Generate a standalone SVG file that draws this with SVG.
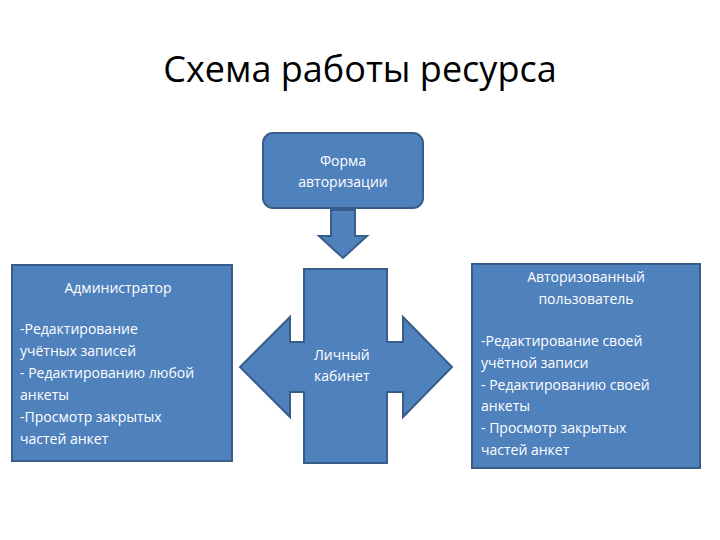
<svg xmlns="http://www.w3.org/2000/svg" width="720" height="540" viewBox="0 0 720 540">
<style>
.s{fill:#4f81bd;stroke:#385d8a;stroke-width:2}
.t{font-family:"Open Sans","DejaVu Sans",sans-serif;font-size:14px;fill:#fff}
.h{font-family:"Open Sans","DejaVu Sans",sans-serif;font-size:36px;fill:#000}
</style>
<rect width="720" height="540" fill="#fff"/>
<text class="h" x="360" y="82" text-anchor="middle">Схема работы ресурса</text>
<g id="form">
<rect class="s" x="263" y="133" width="160" height="75" rx="10"/>
<text class="t" x="343" y="166" text-anchor="middle">Форма</text>
<text class="t" x="343" y="187" text-anchor="middle">авторизации</text>
</g>
<g id="connectors">
<path class="s" d="M331,210 H355 V236 H367 L343,258 L319,236 H331 Z"/>
</g>
<g id="cabinet">
<path class="s" d="M304,269 H387 V342 H403 V317 L452,367 L403,417 V392 H387 V463 H304 V392 H290 V417 L240,367 L290,317 V342 H304 Z"/>
<text class="t" x="314" y="360">Личный</text>
<text class="t" x="314" y="381">кабинет</text>
</g>
<g id="admin">
<rect class="s" x="12" y="265" width="220" height="196"/>
<text class="t" x="118" y="293" text-anchor="middle">Администратор</text>
<text class="t" x="20" y="334">-Редактирование</text>
<text class="t" x="20" y="356">учётных записей</text>
<text class="t" x="20" y="378">- Редактированию любой</text>
<text class="t" x="20" y="400">анкеты</text>
<text class="t" x="20" y="422">-Просмотр закрытых</text>
<text class="t" x="20" y="444">частей анкет</text>
</g>
<g id="user">
<rect class="s" x="472" y="264" width="228" height="204"/>
<text class="t" x="586" y="282" text-anchor="middle">Авторизованный</text>
<text class="t" x="586" y="304" text-anchor="middle">пользователь</text>
<text class="t" x="481" y="346">-Редактирование своей</text>
<text class="t" x="481" y="368">учётной записи</text>
<text class="t" x="481" y="390">- Редактированию своей</text>
<text class="t" x="481" y="411">анкеты</text>
<text class="t" x="481" y="433">- Просмотр закрытых</text>
<text class="t" x="481" y="455">частей анкет</text>
</g>
</svg>
